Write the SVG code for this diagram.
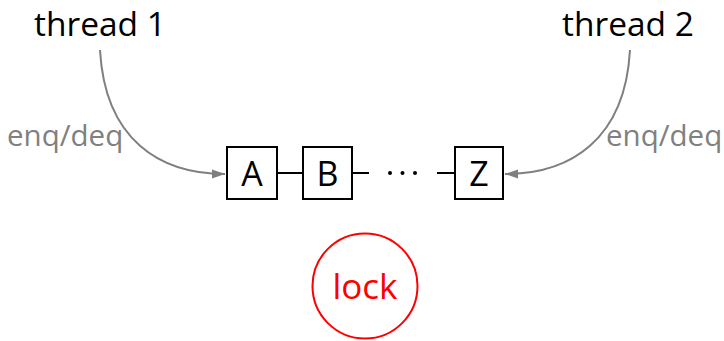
<svg xmlns="http://www.w3.org/2000/svg" width="724" height="341" viewBox="0 0 724 341">
  <style>
    .label { font-family: "Open Sans", "Noto Sans", sans-serif; }
    .thread { font-size: 33.5px; fill: #000; }
    .op { font-size: 29.5px; fill: #808080; }
    .cell rect { fill: #fff; stroke: #000; stroke-width: 2; }
    .cell text { font-size: 34px; fill: #000; text-anchor: middle; }
    .link { stroke: #000; stroke-width: 2; fill: none; }
    .call { stroke: #7f7f7f; stroke-width: 2; fill: none; }
  </style>
  <defs>
    <marker id="arrow" markerWidth="14" markerHeight="10" refX="13" refY="5" orient="auto" markerUnits="userSpaceOnUse">
      <path d="M0,0.5 L13,5 L0,9.5 Z" fill="#7f7f7f"/>
    </marker>
  </defs>
  <rect width="724" height="341" fill="#fff"/>

  <g id="thread1">
    <text class="label thread" x="34" y="36">thread 1</text>
  </g>
  <g id="thread2">
    <text class="label thread" x="562" y="36">thread 2</text>
  </g>

  <g id="connectors">
    <path class="call" d="M100,50 C105,140 160,174 225,174" marker-end="url(#arrow)"/>
    <path class="call" d="M630,50 C625,140 570,174 505,174" marker-end="url(#arrow)"/>
    <line class="link" x1="277" y1="173" x2="303" y2="173"/>
    <line class="link" x1="352" y1="173" x2="369" y2="173"/>
    <line class="link" x1="437" y1="173" x2="455" y2="173"/>
  </g>

  <g id="op-left">
    <text class="label op" x="7" y="146">enq/deq</text>
  </g>
  <g id="op-right">
    <text class="label op" x="606" y="146">enq/deq</text>
  </g>

  <g id="nodeA" class="cell">
    <rect x="227" y="147" width="50" height="52"/>
    <text class="label" x="252" y="186">A</text>
  </g>
  <g id="nodeB" class="cell">
    <rect x="303" y="147" width="49" height="52"/>
    <text class="label" x="327.5" y="186">B</text>
  </g>
  <g id="ellipsis">
    <circle cx="390" cy="173" r="2" fill="#000"/>
    <circle cx="402.5" cy="173" r="2" fill="#000"/>
    <circle cx="415" cy="173" r="2" fill="#000"/>
  </g>
  <g id="nodeZ" class="cell">
    <rect x="455" y="147" width="48" height="52"/>
    <text class="label" x="479" y="186">Z</text>
  </g>

  <g id="lock">
    <circle cx="365" cy="286" r="52.5" fill="none" stroke="#ff0000" stroke-width="2"/>
    <text class="label" x="365" y="299" font-size="35" fill="#ff0000" text-anchor="middle">lock</text>
  </g>
</svg>
